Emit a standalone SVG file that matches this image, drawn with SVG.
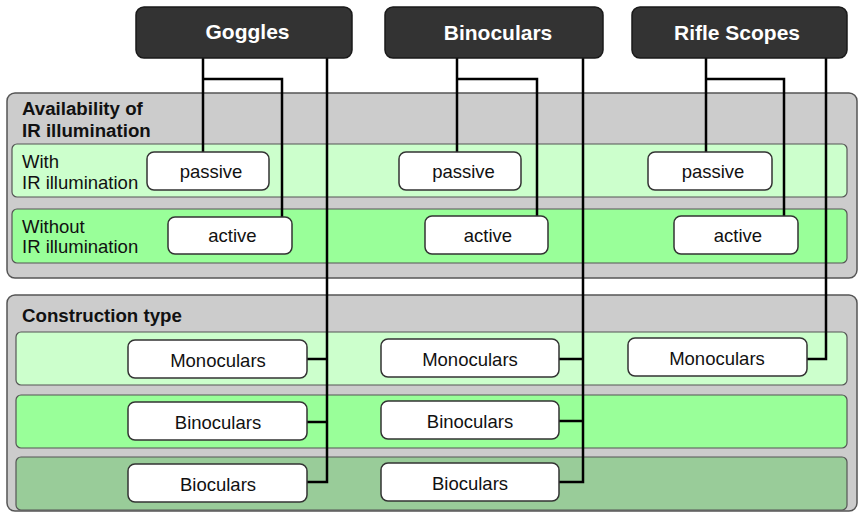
<svg xmlns="http://www.w3.org/2000/svg" width="858" height="513" viewBox="0 0 858 513">
<style>
.hdr{fill:#333333;stroke:#1a1a1a;stroke-width:1.5}
.hdrt{font-family:"Liberation Sans",Arial,sans-serif;font-size:21px;font-weight:bold;fill:#ffffff;text-anchor:middle}
.grp{fill:#cccccc;stroke:#555555;stroke-width:1.5}
.grpt{font-family:"Liberation Sans",Arial,sans-serif;font-size:18.7px;font-weight:bold;fill:#111111}
.l1{fill:#ccffcc;stroke:#555555;stroke-width:1.2}
.l2{fill:#99ff99;stroke:#555555;stroke-width:1.2}
.l3{fill:#99cc99;stroke:#555555;stroke-width:1.2}
.lt{font-family:"Liberation Sans",Arial,sans-serif;font-size:18.5px;fill:#111111}
.nd{fill:#ffffff;stroke:#333333;stroke-width:1.5}
.nt{font-family:"Liberation Sans",Arial,sans-serif;font-size:18.5px;fill:#111111;text-anchor:middle}
.c{fill:none;stroke:#000000;stroke-width:2.5}
</style>
<g id="group-availability">
<rect class="grp" x="7" y="93" width="850" height="185" rx="8"/>
<text class="grpt" x="22" y="115">Availability of</text>
<text class="grpt" x="22" y="137">IR illumination</text>
<rect class="l1" x="12" y="144" width="835" height="53" rx="5"/>
<text class="lt" x="22" y="168">With</text>
<text class="lt" x="22" y="189">IR illumination</text>
<rect class="l2" x="12" y="209" width="835" height="54" rx="5"/>
<text class="lt" x="22" y="233">Without</text>
<text class="lt" x="22" y="253">IR illumination</text>
</g>
<g id="group-construction">
<rect class="grp" x="7" y="295" width="850" height="216" rx="8"/>
<text class="grpt" x="22" y="322">Construction type</text>
<rect class="l1" x="16" y="332" width="831" height="53" rx="5"/>
<rect class="l2" x="16" y="395" width="831" height="53" rx="5"/>
<rect class="l3" x="16" y="457" width="831" height="53" rx="5"/>
</g>
<g id="connectors">
<path class="c" d="M203 58V152M203 79H282V217M327 58V482H307M307 359H327M307 422H327"/>
<path class="c" d="M457 58V152M457 79H537V216M583 58V482H559M559 359H583M559 421H583"/>
<path class="c" d="M706 58V152M706 79H784V216M826 58V359H807"/>
</g>
<g id="goggles"><rect class="hdr" x="136" y="7" width="216" height="51" rx="8"/><text class="hdrt" x="247.5" y="39">Goggles</text></g>
<g id="binoculars"><rect class="hdr" x="385" y="7" width="218" height="51" rx="8"/><text class="hdrt" x="498" y="40">Binoculars</text></g>
<g id="rifle-scopes"><rect class="hdr" x="632" y="7" width="215" height="51" rx="8"/><text class="hdrt" x="737" y="40">Rifle Scopes</text></g>
<g id="goggles-passive"><rect class="nd" x="147" y="152" width="122" height="38" rx="7"/><text class="nt" x="211" y="178">passive</text></g>
<g id="goggles-active"><rect class="nd" x="168" y="217" width="124" height="37" rx="7"/><text class="nt" x="232.5" y="242">active</text></g>
<g id="binoculars-passive"><rect class="nd" x="399" y="152" width="122" height="38" rx="7"/><text class="nt" x="463.5" y="178">passive</text></g>
<g id="binoculars-active"><rect class="nd" x="425" y="216" width="123" height="38" rx="7"/><text class="nt" x="488" y="242">active</text></g>
<g id="rifle-passive"><rect class="nd" x="648" y="152" width="124" height="38" rx="7"/><text class="nt" x="713" y="178">passive</text></g>
<g id="rifle-active"><rect class="nd" x="674" y="216" width="124" height="38" rx="7"/><text class="nt" x="738" y="242">active</text></g>
<g id="goggles-monoculars"><rect class="nd" x="128" y="340" width="179" height="38" rx="7"/><text class="nt" x="218" y="367">Monoculars</text></g>
<g id="goggles-binoculars"><rect class="nd" x="128" y="402" width="179" height="38" rx="7"/><text class="nt" x="218" y="429">Binoculars</text></g>
<g id="goggles-bioculars"><rect class="nd" x="128" y="464" width="179" height="38" rx="7"/><text class="nt" x="218" y="491">Bioculars</text></g>
<g id="binoculars-monoculars"><rect class="nd" x="381" y="339" width="178" height="38" rx="7"/><text class="nt" x="470" y="366">Monoculars</text></g>
<g id="binoculars-binoculars"><rect class="nd" x="381" y="401" width="178" height="38" rx="7"/><text class="nt" x="470" y="428">Binoculars</text></g>
<g id="binoculars-bioculars"><rect class="nd" x="381" y="463" width="178" height="38" rx="7"/><text class="nt" x="470" y="490">Bioculars</text></g>
<g id="rifle-monoculars"><rect class="nd" x="628" y="338" width="179" height="38" rx="7"/><text class="nt" x="717" y="365">Monoculars</text></g>
</svg>
